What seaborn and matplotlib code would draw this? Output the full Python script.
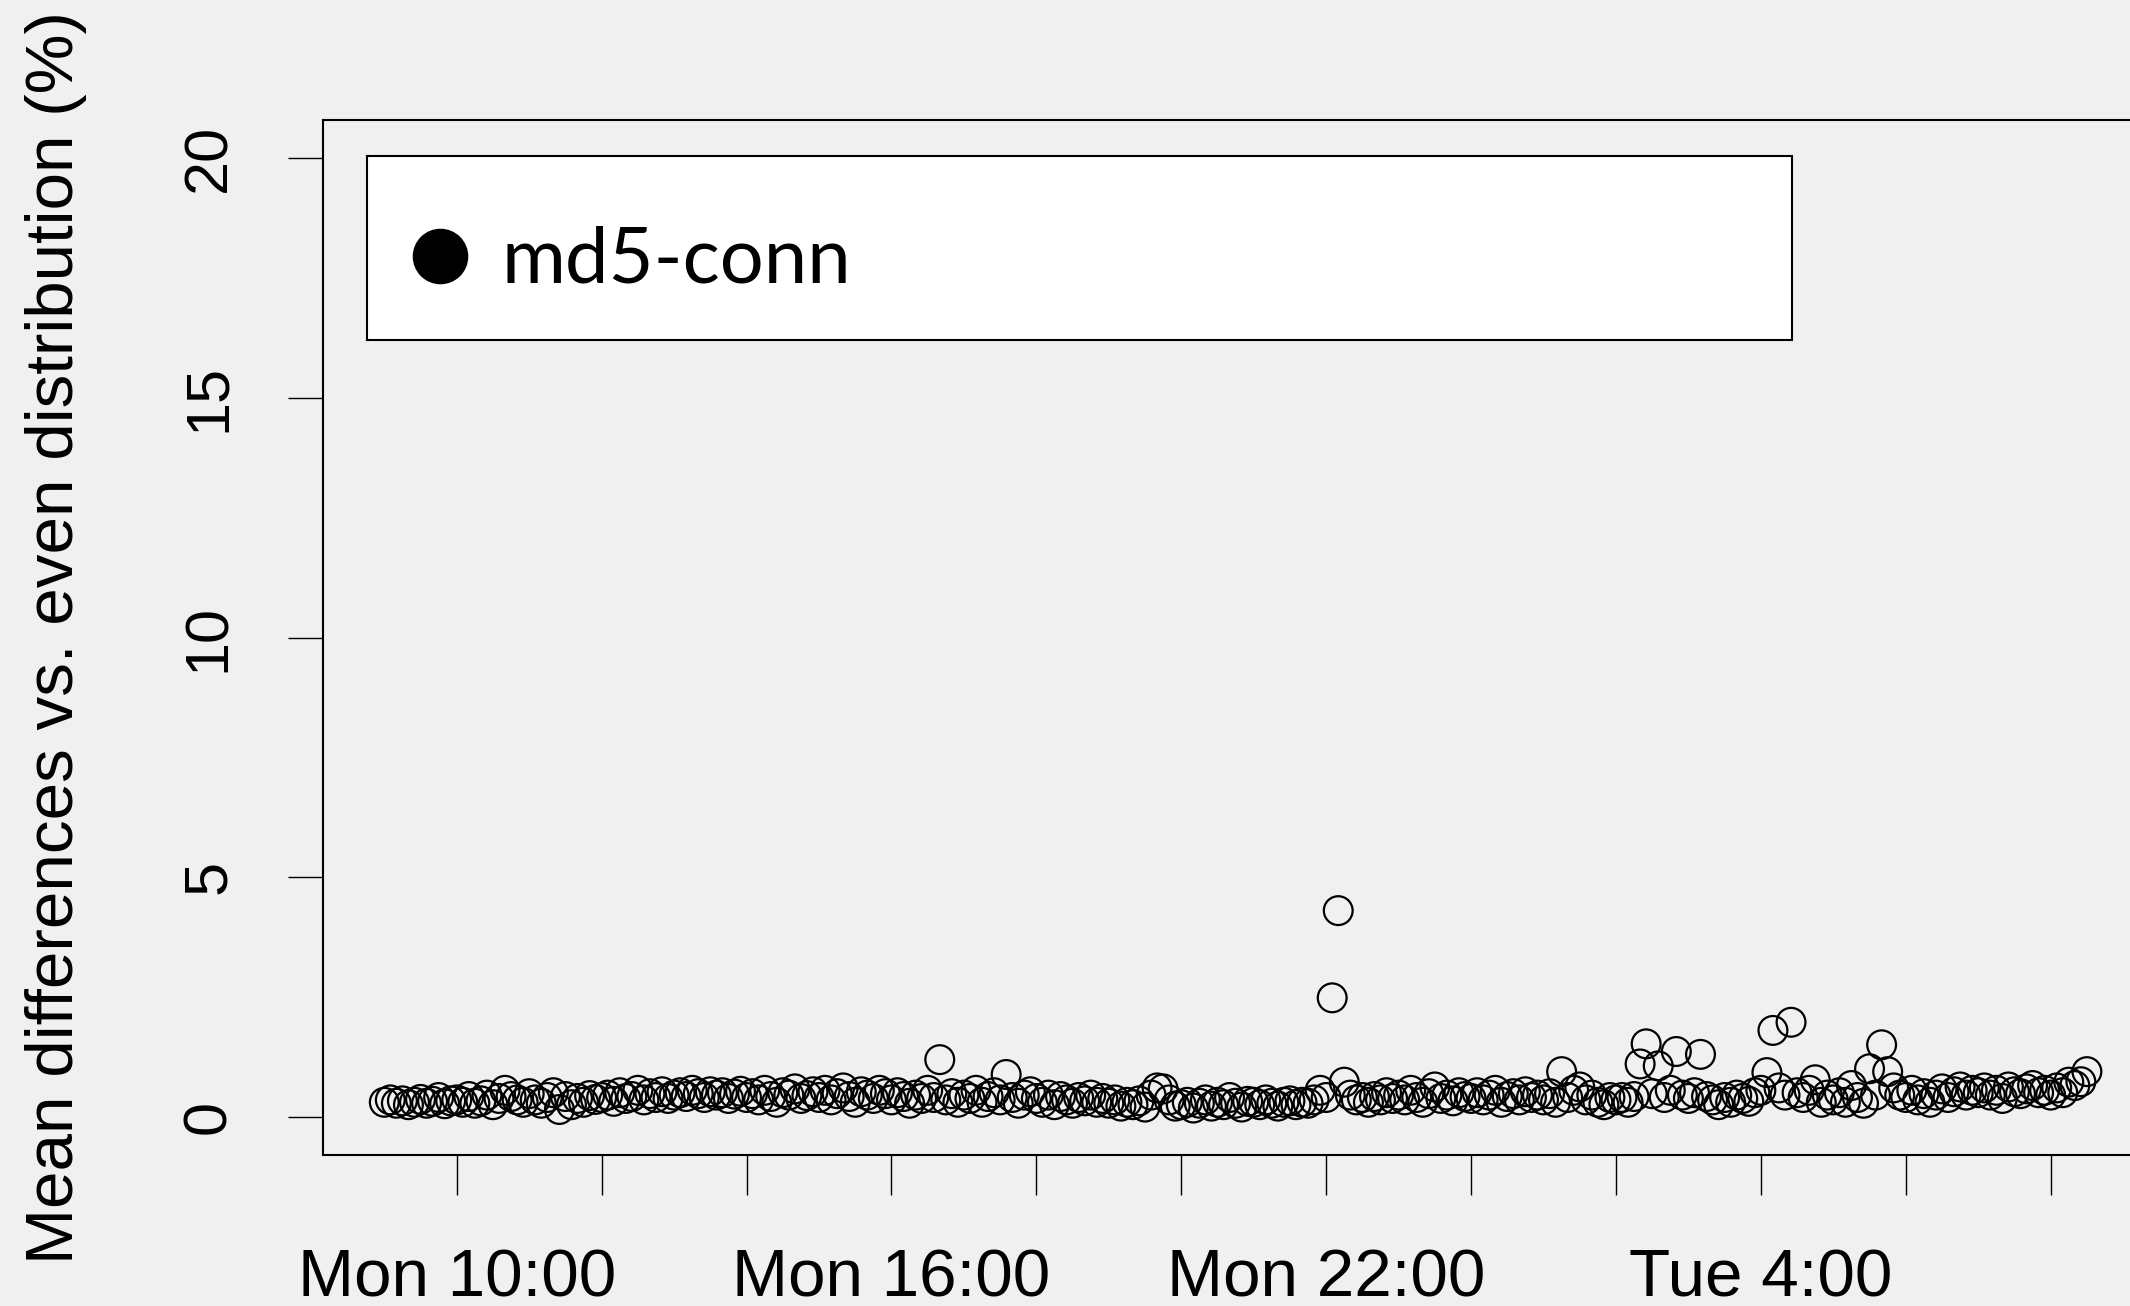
import numpy as np
import pandas as pd
import matplotlib
matplotlib.use("Agg")
import matplotlib.pyplot as plt
import matplotlib.dates as mdates
from matplotlib.lines import Line2D
import seaborn as sns

# md5-conn: mean difference vs. even distribution (%), one sample every 5 min
start = "2012-01-02 09:00"   # a Monday
mon_values = [
    0.30, 0.35, 0.28, 0.33, 0.25, 0.30, 0.36, 0.28, 0.32, 0.40, 0.27, 0.33,  # 9h
    0.35, 0.30, 0.42, 0.28, 0.33, 0.45, 0.25, 0.38, 0.55, 0.42, 0.35, 0.30,  # 10h
    0.48, 0.35, 0.28, 0.40, 0.50, 0.15, 0.42, 0.25, 0.38, 0.30, 0.44, 0.36,  # 11h
    0.40, 0.45, 0.32, 0.50, 0.38, 0.42, 0.55, 0.35, 0.48, 0.40, 0.52, 0.38,  # 12h
    0.45, 0.50, 0.42, 0.55, 0.48, 0.40, 0.52, 0.45, 0.50, 0.38, 0.47, 0.53,  # 13h
    0.40, 0.48, 0.35, 0.55, 0.42, 0.30, 0.50, 0.45, 0.58, 0.38, 0.44, 0.52,  # 14h
    0.40, 0.55, 0.35, 0.48, 0.60, 0.42, 0.30, 0.52, 0.45, 0.38, 0.55, 0.48,  # 15h
    0.35, 0.50, 0.42, 0.28, 0.45, 0.38, 0.55, 0.40, 1.19, 0.35, 0.48, 0.30,  # 16h
    0.45, 0.38, 0.55, 0.30, 0.42, 0.50, 0.35, 0.88, 0.40, 0.28, 0.45, 0.52,  # 17h
    0.38, 0.30, 0.45, 0.25, 0.42, 0.35, 0.28, 0.40, 0.33, 0.45, 0.30, 0.38,  # 18h
    0.28, 0.35, 0.22, 0.30, 0.25, 0.33, 0.20, 0.45, 0.60, 0.58, 0.35, 0.22,  # 19h
    0.25, 0.30, 0.18, 0.28, 0.35, 0.22, 0.30, 0.25, 0.40, 0.28, 0.20, 0.32,  # 20h
    0.30, 0.25, 0.35, 0.28, 0.22, 0.30, 0.33, 0.25, 0.30, 0.28, 0.35, 0.55,  # 21h
    0.40, 2.48, 4.30, 0.72, 0.45, 0.35, 0.40, 0.30, 0.42, 0.35, 0.50, 0.38,  # 22h
    0.45, 0.35, 0.55, 0.40, 0.30, 0.48, 0.62, 0.38, 0.45, 0.33, 0.50, 0.42,  # 23h
]
tue_values = [
    0.38, 0.50, 0.35, 0.45, 0.55, 0.30, 0.42, 0.48, 0.35, 0.52, 0.40, 0.45,  # 0h
    0.35, 0.48, 0.30, 0.94, 0.40, 0.55, 0.62, 0.35, 0.45, 0.30, 0.25, 0.40,  # 1h
    0.35, 0.40, 0.30, 0.42, 1.10, 1.52, 0.48, 1.06, 0.40, 0.55, 1.36, 0.45,  # 2h
    0.38, 0.50, 1.30, 0.42, 0.35, 0.25, 0.40, 0.30, 0.45, 0.38, 0.32, 0.50,  # 3h
    0.55, 0.92, 1.80, 0.60, 0.45, 1.97, 0.50, 0.40, 0.55, 0.77, 0.30, 0.45,  # 4h
    0.35, 0.50, 0.30, 0.65, 0.40, 0.28, 1.00, 0.45, 1.50, 0.94, 0.60, 0.45,  # 5h
    0.40, 0.55, 0.35, 0.48, 0.30, 0.45, 0.58, 0.40, 0.52, 0.62, 0.45, 0.55,  # 6h
    0.50, 0.60, 0.45, 0.55, 0.38, 0.62, 0.52, 0.48, 0.58, 0.65, 0.50, 0.55,  # 7h
    0.45, 0.60, 0.50, 0.72, 0.65, 0.73, 0.94,                                # 8h
]
tick_hours = ["2012-01-02 10:00", "2012-01-02 12:00", "2012-01-02 14:00",
              "2012-01-02 16:00", "2012-01-02 18:00", "2012-01-02 20:00",
              "2012-01-02 22:00", "2012-01-03 00:00", "2012-01-03 02:00",
              "2012-01-03 04:00", "2012-01-03 06:00", "2012-01-03 08:00"]
tick_labels = ["Mon 10:00", "", "", "Mon 16:00", "", "", "Mon 22:00", "", "",
               "Tue 4:00", "", ""]
y_ticks = [0, 5, 10, 15, 20]

values = mon_values + tue_values
df = pd.DataFrame({
    "time": pd.date_range(start, periods=len(values), freq="5min"),
    "diff": values,
})

bg = "#f0f0f0"
sns.set_style("ticks", {"axes.facecolor": bg, "figure.facecolor": bg,
                        "axes.edgecolor": "black", "text.color": "black",
                        "axes.labelcolor": "black", "xtick.color": "black",
                        "ytick.color": "black"})
plt.rcParams["font.family"] = ["Liberation Sans", "DejaVu Sans"]

fig = plt.figure(figsize=(21.3, 13.06), dpi=100)
ax = fig.add_axes([323 / 2130, 151 / 1306, 1832 / 2130, 1035 / 1306])

sns.scatterplot(data=df, x="time", y="diff", ax=ax, marker="o", s=430,
                facecolor="none", edgecolor="black", linewidth=1.6,
                legend=False)

# padding around the time range, fixed 0-20 range on y
t0 = mdates.date2num(df.time.min())
t1 = mdates.date2num(df.time.max())
span = t1 - t0
ax.set_xlim(t0 - 0.036 * span, t1 + 0.04 * span)
ax.set_ylim(-0.8, 20.8)

ax.set_xticks(mdates.date2num(pd.to_datetime(tick_hours)))
ax.set_xticklabels(tick_labels, fontsize=48.5)
ax.set_yticks(y_ticks)
ax.set_yticklabels([str(v) for v in y_ticks], fontsize=44, rotation=90,
                   va="center")
ax.tick_params(axis="x", length=29, width=1.0, pad=38)
ax.tick_params(axis="y", length=25, width=1.0, pad=36)

ax.set_xlabel("")
ax.set_ylabel("Mean differences vs. even distribution (%)", fontsize=48.5)
ax.yaxis.set_label_coords(-0.129, 0.5)

for side in ["left", "bottom", "top", "right"]:
    ax.spines[side].set_visible(True)
    ax.spines[side].set_linewidth(1.5)

# the blank title only nudges the entry a little below the box centre
handle = Line2D([], [], marker="o", color="black", linestyle="none",
                markersize=39)
leg = ax.legend([handle], ["md5-conn"], loc="upper left",
                bbox_to_anchor=(44 / 1832, 0.789, 1425 / 1832, 0.176),
                mode="expand", borderaxespad=0, borderpad=0.56,
                labelspacing=0, title=" ", title_fontproperties={"size": 20},
                handlelength=0.75, handletextpad=0.42, fancybox=False,
                framealpha=1, edgecolor="black",
                prop={"family": "Lato", "size": 56})
leg.get_frame().set_linewidth(1.5)
leg.get_frame().set_facecolor("white")

fig.savefig("out.png", dpi=100, facecolor=bg)
